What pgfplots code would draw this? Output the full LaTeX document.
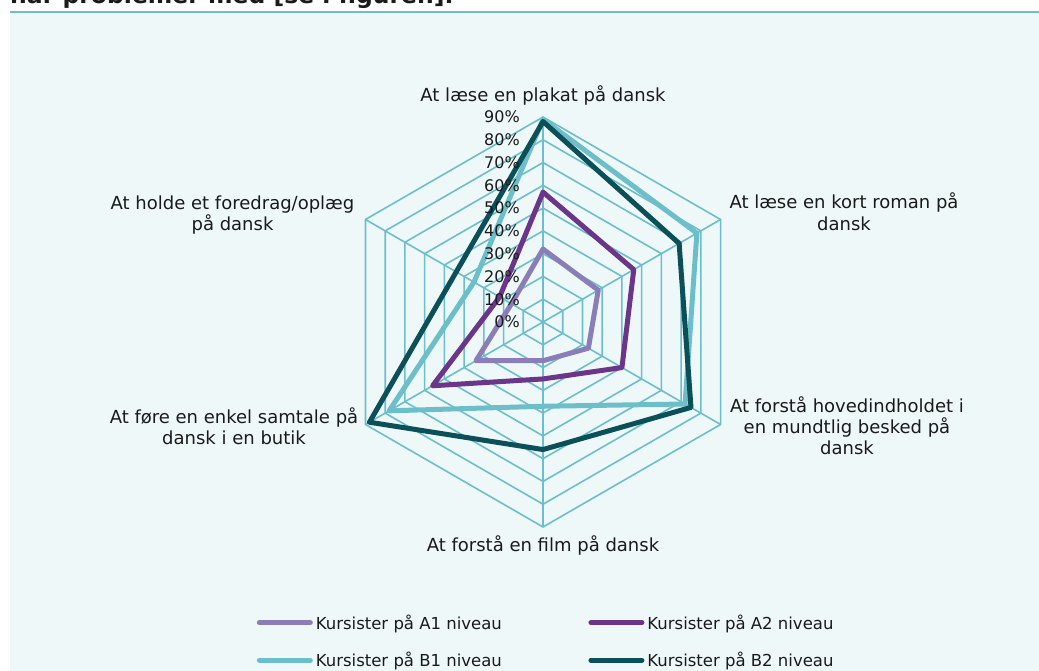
\documentclass[border=0pt]{standalone}
\usepackage{fontspec}
\setmainfont{DejaVu Sans}
\usepackage{pgfplots}
\pgfplotsset{compat=1.18}
\definecolor{bg}{HTML}{EFF8F9}
\definecolor{gridc}{HTML}{6CBFCA}
\definecolor{cAa}{HTML}{8A7DB8}
\definecolor{cAb}{HTML}{6B368A}
\definecolor{cBa}{HTML}{6CBFC9}
\definecolor{cBb}{HTML}{0B5058}
\definecolor{txt}{HTML}{1A1A1A}
\begin{document}
\begin{tikzpicture}[x=1pt,y=1pt]
\useasboundingbox (0,0) rectangle (1039,671);
\fill[white] (0,0) rectangle (1039,671);
\fill[bg] (10,0) rectangle (1039,658);
\draw[gridc, line width=2pt] (10,659) -- (1039,659);
\begin{scope}
\clip (0,661) rectangle (1039,671);
\node[anchor=base west, inner sep=0pt, text=txt, font=\fontsize{23.5}{27}\selectfont\bfseries] at (10,667) {har problemer med [se i figuren].};
\end{scope}
\begin{axis}[
  at={(0pt,0pt)}, anchor=south west,
  scale only axis, width=1039pt, height=671pt,
  xmin=-238.39, xmax=217.76, ymin=-153.22, ymax=141.37,
  hide axis, clip=false, data cs=polar,
  legend columns=2,
  legend cell align=left,
  legend image code/.code={\draw[#1, line cap=round] (0pt,0pt) -- (51pt,0pt);},
  legend style={at={(axis description cs:0.2470,0.0842)}, anchor=north west,
    draw=none, fill=none, inner sep=0pt, nodes={inner sep=0pt, text=txt},
    font=\fontsize{16.5}{20}\selectfont, row sep=21.5pt,
    /tikz/every odd column/.append style={column sep=3pt},
    /tikz/every even column/.append style={column sep=86.5pt}},
]
% hexagonal grid rings
\addplot[gridc, line width=1.6pt, forget plot] coordinates {(90,10)(30,10)(-30,10)(-90,10)(-150,10)(150,10)(90,10)(30,10)};
\addplot[gridc, line width=1.6pt, forget plot] coordinates {(90,20)(30,20)(-30,20)(-90,20)(-150,20)(150,20)(90,20)(30,20)};
\addplot[gridc, line width=1.6pt, forget plot] coordinates {(90,30)(30,30)(-30,30)(-90,30)(-150,30)(150,30)(90,30)(30,30)};
\addplot[gridc, line width=1.6pt, forget plot] coordinates {(90,40)(30,40)(-30,40)(-90,40)(-150,40)(150,40)(90,40)(30,40)};
\addplot[gridc, line width=1.6pt, forget plot] coordinates {(90,50)(30,50)(-30,50)(-90,50)(-150,50)(150,50)(90,50)(30,50)};
\addplot[gridc, line width=1.6pt, forget plot] coordinates {(90,60)(30,60)(-30,60)(-90,60)(-150,60)(150,60)(90,60)(30,60)};
\addplot[gridc, line width=1.6pt, forget plot] coordinates {(90,70)(30,70)(-30,70)(-90,70)(-150,70)(150,70)(90,70)(30,70)};
\addplot[gridc, line width=1.6pt, forget plot] coordinates {(90,80)(30,80)(-30,80)(-90,80)(-150,80)(150,80)(90,80)(30,80)};
\addplot[gridc, line width=1.6pt, forget plot] coordinates {(90,90)(30,90)(-30,90)(-90,90)(-150,90)(150,90)(90,90)(30,90)};
% spokes
\addplot[gridc, line width=1.6pt, forget plot] coordinates {(90,90)(-90,90)};
\addplot[gridc, line width=1.6pt, forget plot] coordinates {(30,90)(210,90)};
\addplot[gridc, line width=1.6pt, forget plot] coordinates {(150,90)(-30,90)};
% series: order top, upper right, lower right, bottom, lower left, upper left
\addplot[cAa, line width=5pt, line join=round, line cap=round] coordinates {(90,32)(30,28)(-30,23)(-90,17)(-150,34)(150,16)(90,32)};
\addlegendentry{Kursister på A1 niveau}
\addplot[cAb, line width=5pt, line join=round, line cap=round] coordinates {(90,57)(30,46)(-30,40)(-90,25)(-150,56)(150,22)(90,57)};
\addlegendentry{Kursister på A2 niveau}
\addplot[cBa, line width=5pt, line join=round, line cap=round] coordinates {(90,89)(30,78)(-30,72)(-90,37)(-150,78)(150,35)(90,89)};
\addlegendentry{Kursister på B1 niveau}
\addplot[cBb, line width=5pt, line join=round, line cap=round] coordinates {(90,88)(30,69)(-30,75)(-90,56)(-150,88)(150,44)(90,88)};
\addlegendentry{Kursister på B2 niveau}
\end{axis}
% radial tick labels
\begin{scope}[every node/.style={anchor=east, inner sep=0pt, text=txt, font=\fontsize{16}{19}\selectfont}]
\node at (520,349.0) {0\%};
\node at (520,371.8) {10\%};
\node at (520,394.6) {20\%};
\node at (520,417.3) {30\%};
\node at (520,440.1) {40\%};
\node at (520,462.9) {50\%};
\node at (520,485.7) {60\%};
\node at (520,508.4) {70\%};
\node at (520,531.2) {80\%};
\node at (520,554.0) {90\%};
\end{scope}
% category labels
\begin{scope}[every node/.style={anchor=base, inner sep=0pt, text=txt, font=\fontsize{18}{22}\selectfont}]
\node at (543,569) {At læse en plakat på dansk};
\node at (844,462) {At læse en kort roman på};
\node at (844,440) {dansk};
\node at (847,258) {At forstå hovedindholdet i};
\node at (847,237) {en mundtlig besked på};
\node at (847,216) {dansk};
\node at (543,119.3) {At forstå en film på dansk};
\node at (234,247.7) {At føre en enkel samtale på};
\node at (234,226) {dansk i en butik};
\node at (232.5,461) {At holde et foredrag/oplæg};
\node at (232.5,440) {på dansk};
\end{scope}
\end{tikzpicture}
\end{document}
